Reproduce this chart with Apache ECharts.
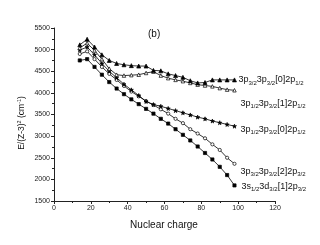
<!DOCTYPE html>
<html><head><meta charset="utf-8">
<script src="https://cdn.jsdelivr.net/npm/echarts@6/dist/echarts.min.js"></script>
<style>html,body{margin:0;padding:0;background:#fff}#c{width:320px;height:245px}</style>
</head><body><div id="c"></div>
<script>
const Z = [14,18,22,26,30,34,38,42,46,50,54,58,62,66,70,74,78,82,86,90,94,98];
const sA = [5110,5240,5060,4880,4750,4680,4650,4630,4620,4620,4520,4510,4440,4400,4360,4280,4230,4240,4300,4300,4300,4300];
const sB = [5040,5150,4980,4780,4560,4420,4400,4410,4420,4460,4490,4400,4340,4300,4270,4230,4190,4170,4150,4110,4075,4060];
const sC = [4990,5060,4880,4680,4500,4350,4200,4070,3940,3800,3730,3690,3640,3590,3540,3490,3440,3400,3350,3310,3270,3230];
const sD = [4900,4960,4780,4600,4440,4300,4160,4030,3920,3810,3720,3620,3520,3400,3300,3160,3060,2950,2810,2680,2500,2360];
const sE = [4750,4780,4600,4420,4250,4100,3970,3850,3740,3630,3520,3400,3290,3160,3030,2900,2760,2610,2460,2290,2100,1860];
const labels = [
  '{a|3p}{s|3/2}{a|3p}{s|3/2}{a|[0]2p}{s|1/2}',
  '{a|3p}{s|1/2}{a|3p}{s|3/2}{a|[1]2p}{s|1/2}',
  '{a|3p}{s|1/2}{a|3p}{s|3/2}{a|[0]2p}{s|1/2}',
  '{a|3p}{s|3/2}{a|3p}{s|3/2}{a|[2]2p}{s|3/2}',
  '{a|3s}{s|1/2}{a|3d}{s|3/2}{a|[1]2p}{s|3/2}'
];
const xTicks = [0,20,40,60,80,100,120];
const yTicks = [1500,2000,2500,3000,3500,4000,4500,5000,5500];

const star = 'path://M0,-1 L0.22,-0.3 L0.95,-0.31 L0.36,0.12 L0.59,0.81 L0,0.38 L-0.59,0.81 L-0.36,0.12 L-0.95,-0.31 L-0.22,-0.3Z';
const rich = {
  a:{fontSize:9,fontFamily:'Liberation Sans',color:'#111',verticalAlign:'middle',lineHeight:12},
  s:{fontSize:6,fontFamily:'Liberation Sans',color:'#111',verticalAlign:'bottom',lineHeight:12}
};
const cfg = [
  {d:sA, sym:'triangle', size:4, fill:'#000', off:[2,0]},
  {d:sB, sym:'triangle', size:3.5, fill:'#fff', off:[4,13]},
  {d:sC, sym:star, size:4, fill:'#000', off:[4,3]},
  {d:sD, sym:'circle', size:3.2, fill:'#fff', off:[4,8]},
  {d:sE, sym:'rect', size:3.2, fill:'#000', off:[5,1]}
];
const series = cfg.map((c,i)=>({
  type:'line',
  data: Z.map((z,k)=>[z,c.d[k]]),
  symbol:c.sym, symbolSize:c.size, showAllSymbol:true,
  lineStyle:{color:'#000',width:0.8},
  itemStyle:{color:c.fill,borderColor:'#000',borderWidth:0.7},
  endLabel:{show:true, formatter:labels[i], rich:rich, distance:2, offset:c.off},
  animation:false, silent:true, z: 5-i
}));
const chart = echarts.init(document.getElementById('c'),null,{renderer:'canvas'});
const axisCommon = {
  axisLine:{show:true,lineStyle:{color:'#222',width:1}},
  axisTick:{show:true,inside:false,length:3,lineStyle:{color:'#222'}},
  minorTick:{show:true,splitNumber:2,length:2,lineStyle:{color:'#222'}},
  splitLine:{show:false},
  axisLabel:{fontSize:7,fontFamily:'Liberation Sans',color:'#222',margin:4,formatter:v=>String(v)}
};
chart.setOption({
  animation:false,
  grid:{left:54,right:45,top:28,bottom:44},
  xAxis:Object.assign({type:'value',min:xTicks[0],max:xTicks[xTicks.length-1],interval:20},axisCommon),
  yAxis:Object.assign({type:'value',min:yTicks[0],max:yTicks[yTicks.length-1],interval:500},axisCommon),
  graphic:[
    {type:'text',left:148,top:29,style:{text:'(b)',fontSize:10,fontFamily:'Liberation Sans',fill:'#111'}},
    {type:'text',x:164,y:225,style:{text:'Nuclear charge',fontSize:10,fontFamily:'Liberation Sans',fill:'#111',align:'center',verticalAlign:'middle'}},
    {type:'text',x:22,y:123,rotation:Math.PI/2,style:{
      text:'{a|E/(Z-3)}{p|2}{a| (cm}{p|-1}{a|)}',
      rich:{a:{fontSize:8.5,fontFamily:'Liberation Sans',fill:'#111',verticalAlign:'middle',lineHeight:11},
            p:{fontSize:5.5,fontFamily:'Liberation Sans',fill:'#111',verticalAlign:'top',lineHeight:11}},
      align:'center',verticalAlign:'middle'}}
  ],
  series:series
});
</script></body></html>
